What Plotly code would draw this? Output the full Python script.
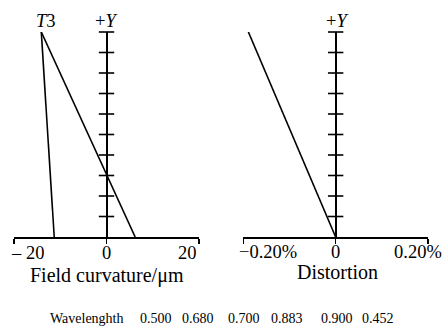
import plotly.graph_objects as go

# ---- data ----
field_y = [10, 0]                 # relative field height (top = full field)
field_curv_s = [-14.1, -11.3]     # µm
field_curv_t = [-14.1, 6.2]       # µm
dist_y = [10, 0]
distortion = [-0.189, 0.0]        # %
ytick_vals = [1, 2, 3, 4, 5, 6, 7, 8, 9, 10]
x1_ticks = [-20, 0, 20]
x1_text = ["\u2013 20", "0", "20"]
x2_ticks = [-0.2, 0, 0.2]
x2_text = ["\u22120.20%", "0", "0.20%"]
wl_label = "Wavelenghth"
wavelengths = ["0.500", "0.680", "0.700", "0.883", "0.900", "0.452"]

FONT = "Liberation Serif"
W, H = 447, 327
ML, MR, MT, MB = 14, 19, 32, 90
PW, PH = W - ML - MR, H - MT - MB
lw = 1.6


def px_x(p):
    return (p - ML) / PW


def px_y(p):
    return (H - MB - p) / PH


fig = go.Figure()
for xs in (field_curv_s, field_curv_t):
    fig.add_trace(go.Scatter(x=xs, y=field_y, mode="lines",
                             line=dict(color="black", width=lw),
                             xaxis="x", yaxis="y", showlegend=False, hoverinfo="skip"))
fig.add_trace(go.Scatter(x=distortion, y=dist_y, mode="lines",
                         line=dict(color="black", width=lw),
                         xaxis="x2", yaxis="y2", showlegend=False, hoverinfo="skip"))
for xa, ya in (("x", "y"), ("x2", "y2")):
    fig.add_trace(go.Scatter(x=[0] * len(ytick_vals), y=ytick_vals, mode="markers",
                             marker=dict(symbol="line-ew", size=11,
                                         line=dict(color="black", width=1.6)),
                             xaxis=xa, yaxis=ya, showlegend=False, hoverinfo="skip",
                             cliponaxis=False))

axis_common = dict(showgrid=False, showline=True, linecolor="black", linewidth=2,
                   ticks="outside", ticklen=5, tickwidth=1.5, tickcolor="black",
                   showticklabels=False, zeroline=True, zerolinecolor="black",
                   zerolinewidth=2, fixedrange=True)
yaxis_common = dict(range=[0, 10], visible=False, fixedrange=True)

fig.update_layout(
    width=W, height=H,
    margin=dict(l=ML, r=MR, t=MT, b=MB, autoexpand=False),
    paper_bgcolor="white", plot_bgcolor="white",
    xaxis=dict(domain=[0, px_x(199)], range=[-20, 20], tickvals=x1_ticks, anchor="y", **axis_common),
    yaxis=dict(domain=[0, 1], anchor="x", **yaxis_common),
    xaxis2=dict(domain=[px_x(243.3), 1], range=[-0.2, 0.2], tickvals=x2_ticks, anchor="y2", **axis_common),
    yaxis2=dict(domain=[0, 1], anchor="x2", **yaxis_common),
    font=dict(family=FONT, color="black"),
)

ann = []
TF = dict(size=18.5, family=FONT, color="black")
for v, t, a, s in zip(x1_ticks, x1_text, ["left", "center", "right"], [-5, 0, 0]):
    ann.append(dict(x=v, y=0, xref="x", yref="y", text=t, showarrow=False,
                    xanchor=a, yanchor="middle", xshift=s, yshift=-15, font=TF,
                    height=17))
for v, t, a, s in zip(x2_ticks, x2_text, ["left", "center", "right"], [-6, 0, 16]):
    ann.append(dict(x=v, y=0, xref="x2", yref="y2", text=t, showarrow=False,
                    xanchor=a, yanchor="middle", xshift=s, yshift=-14.5, font=TF,
                    height=17))
ann.append(dict(x=0, y=0, xref="x", yref="y", text="Field curvature/\u03bcm", showarrow=False,
                xanchor="center", yanchor="middle", yshift=-38,
                font=dict(size=20, family=FONT, color="black")))
ann.append(dict(x=0, y=0, xref="x2", yref="y2", text="Distortion", showarrow=False,
                xanchor="center", yanchor="middle", yshift=-34, xshift=2,
                font=dict(size=20, family=FONT, color="black"), height=19))
ann.append(dict(x=field_curv_t[0], y=10, xref="x", yref="y", text="<i>T</i>3", showarrow=False,
                xanchor="center", yanchor="middle", xshift=5, yshift=11, font=TF))
for xr, yr, sh in (("x", "y", -1), ("x2", "y2", 1)):
    ann.append(dict(x=0, y=10, xref=xr, yref=yr, text="+<i>Y</i>", showarrow=False,
                    xanchor="center", yanchor="middle", xshift=sh, yshift=11, font=TF))
# wavelength note (each entry placed at its own horizontal position)
WF = dict(size=14, family=FONT, color="black")
ann.append(dict(x=px_x(87), y=px_y(318.5), xref="paper", yref="paper", text=wl_label,
                showarrow=False, xanchor="center", yanchor="middle", font=WF))
for cx, t in zip([156, 197.5, 243.5, 286.5, 336.5, 377.5], wavelengths):
    ann.append(dict(x=px_x(cx), y=px_y(318.5), xref="paper", yref="paper", text=t,
                    showarrow=False, xanchor="center", yanchor="middle", font=WF))
fig.update_layout(annotations=ann)

fig.write_html("out.html", config={"displayModeBar": False, "staticPlot": True},
               post_script="document.body.style.margin='0px';")
